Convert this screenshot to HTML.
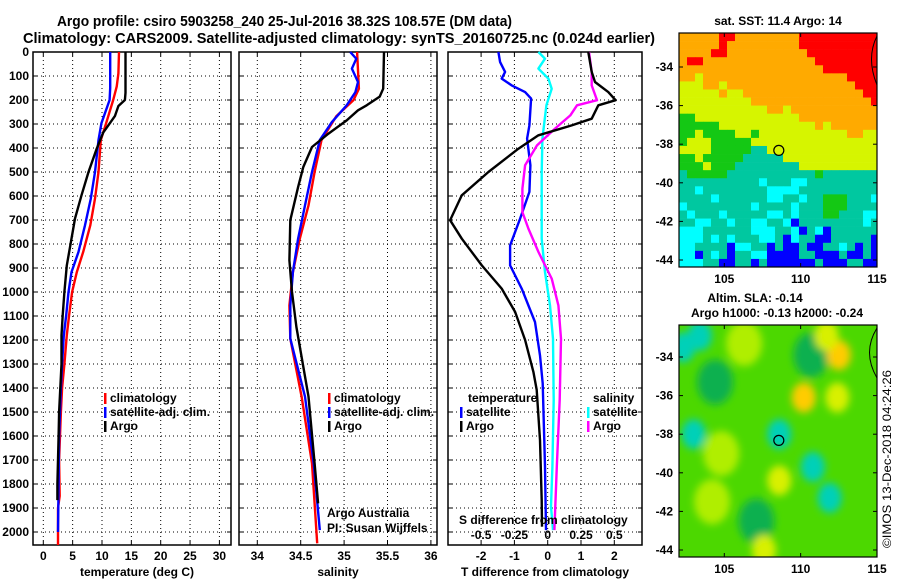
<!DOCTYPE html>
<html><head><meta charset="utf-8"><style>
html,body{margin:0;padding:0;background:#fff;}
svg{display:block;font-family:"Liberation Sans",Arial,sans-serif;}
.b{font-weight:bold;font-size:12px;}
</style></head><body>
<svg id="fig" width="900" height="580" viewBox="0 0 900 580" xmlns="http://www.w3.org/2000/svg">
<defs>
<filter id="blur" x="-10%" y="-10%" width="120%" height="120%"><feGaussianBlur stdDeviation="4"/></filter>
<clipPath id="clipSla"><rect x="679" y="325" width="198" height="232"/></clipPath>
<clipPath id="clipSst"><rect x="679" y="33" width="198" height="234"/></clipPath>
</defs>
<text x="57" y="26" font-size="15" font-weight="bold" textLength="455" lengthAdjust="spacingAndGlyphs">Argo profile: csiro 5903258_240 25-Jul-2016 38.32S 108.57E (DM data)</text>
<text x="23" y="43" font-size="15" font-weight="bold" textLength="632" lengthAdjust="spacingAndGlyphs">Climatology: CARS2009. Satellite-adjusted climatology: synTS_20160725.nc (0.024d earlier)</text>
<g id="panels"></g>
<g id="maps"></g>
<text transform="translate(891,548) rotate(-90)" font-size="12" textLength="178" lengthAdjust="spacingAndGlyphs">©IMOS 13-Dec-2018 04:24:26</text>
</svg>
<script>
// ---- profile data ----
const tArgoD = [0,170,200,225,267,336,403,500,597,694,792,889,1000,1097,1180,1300,1500,1600,1800,1867];
const tArgoV = [14.0,14.0,13.9,12.8,12.2,10.2,9.1,7.7,6.5,5.4,4.7,4.0,3.6,3.3,3.1,3.1,2.7,2.6,2.4,2.4];
const tClimD = [0,89,144,200,297,367,500,611,722,833,917,1000,1097,1180,1300,1400,1500,1700,1850,1900,2054];
const tClimV = [12.9,12.8,12.5,11.9,10.7,9.8,9.4,8.8,8.0,6.8,5.7,4.9,4.4,4.0,3.6,3.2,3.0,2.7,2.8,2.5,2.5];
const tSatD = [0,150,200,297,367,500,611,722,833,917,1000,1097,1180,1300,1400,1600,1800,2000];
const tSatV = [11.4,11.4,11.3,9.9,9.4,8.8,8.1,7.1,6.0,4.8,4.3,3.9,3.5,3.2,3.0,2.7,2.6,2.5];

const sArgoD = [0,153,186,222,243,285,340,396,479,563,701,868,1000,1146,1436,1714,1881];
const sArgoV = [35.46,35.45,35.41,35.26,35.16,35.03,34.82,34.63,34.53,34.47,34.38,34.37,34.40,34.45,34.59,34.66,34.70];
const sClimD = [0,153,200,268,367,500,639,778,917,1056,1194,1436,1714,2047];
const sClimV = [35.15,35.17,35.11,34.91,34.74,34.66,34.59,34.49,34.41,34.37,34.38,34.51,34.63,34.69];
const sSatD = [0,28,69,125,167,222,292,367,500,639,778,917,1056,1194,1436,1714,1992];
const sSatV = [35.07,35.14,35.09,35.16,35.13,35.03,34.86,34.72,34.63,34.55,34.47,34.41,34.38,34.38,34.55,34.65,34.72];

const dtArgoD = [0,83,125,167,201,222,278,306,347,403,500,597,701,778,889,986,1083,1200,1333,1408,1617,1867,1978];
const dtArgoV = [1.22,1.32,1.42,1.82,2.04,1.52,1.32,0.72,-0.28,-0.88,-1.78,-2.58,-2.93,-2.58,-1.98,-1.38,-0.98,-0.68,-0.43,-0.33,-0.23,-0.18,-0.17];
const dtSatD = [0,42,83,111,139,167,194,306,361,472,583,694,806,889,986,1125,1264,1381,1728,1992];
const dtSatV = [-1.48,-1.43,-1.28,-1.38,-1.08,-0.68,-0.5,-0.55,-0.62,-0.52,-0.55,-0.83,-1.13,-1.13,-0.78,-0.38,-0.23,-0.15,-0.08,-0.05];
const dsSatD = [0,28,69,111,153,222,361,500,639,778,917,1056,1194,1450,1728,1894,1992];
const dsSatV = [-0.07,-0.02,-0.07,0.005,0.03,-0.01,-0.04,-0.045,-0.045,-0.045,-0.02,0.017,0.04,0.045,0.035,0.025,0.04];
const dsArgoD = [0,83,139,201,222,264,319,389,472,569,667,736,833,944,1056,1194,1450,1728,1992];
const dsArgoV = [0.31,0.33,0.33,0.37,0.22,0.17,0.055,-0.08,-0.17,-0.19,-0.19,-0.145,-0.07,0.03,0.08,0.1,0.09,0.068,0.05];

const depthTicks = [0,100,200,300,400,500,600,700,800,900,1000,1100,1200,1300,1400,1500,1600,1700,1800,1900,2000];
const tTicks = [0,5,10,15,20,25,30];
const sTicks = [34,34.5,35,35.5,36];
const sTickLabels = ['34','34.5','35','35.5','36'];
const dtTicks = [-2,-1,0,1,2];
const dsTicks = [-0.5,-0.25,0,0.25,0.5];
const dsTickLabels = ['-0.5','-0.25','0','0.25','0.5'];

// ---- map data ----
const sstRows = [
"OOOOORROOOOOOOORRRRRRRRRR","OOOOOROOOOOOOOORRRRRRRRRR","OOOORROOOOOOOOOORRRRRRRRR","ORROOOOOOOOOOOOOORRRRRRRR",
"OOOOOOOOOOOOOOOOOORRRRRRR","OOYOOOOOOOOOOOOOOOOOORRRR","YYYOOYOOOOOOOOOOOOOOOORRR","YYYYYOYYOOOOOOOOOOOOOOORR",
"YYYYYYYYYOOOOOOOOOOOOOOOR","YYYYYYYYYYYOOYOOOOOOOOOOO","GGYYYYYYYYYYYYYOOOOOOOOOO","GGGGGYYYYYYYYYYYYOYOOOOOO",
"GGYGGGGYYGYYYYYYYYYYYOOYY","GYYYGGGGGYYYYYYYYYYYYYYYY","YYYYGGGGGTTYYYYYYYYYYYYYY","GGYGGGGGTTTTTYYYYYYYYYYYY",
"GGGYGGGTTTTTTTTYYYYYYYYYY","TGGGGGTTTTTTTTTTTGTTTTTTT","TTTTTTTTTTCTTTCCTTTTTTTTT","TTCTTTTTTTTCCCCTTTTTTTTTT",
"TTTTCTTTTTTCCTTCTTGGGTTTC","CTTTTTTTTCTTTTCTTTGGGTTTT","TCTTTCTTTTTCCTCTTTGGTTTCC","TTCCTTCTTCCTTCBTTTTTTTTCT",
"CCCTTTTTTCCCTTCBTCBTTTTTT","CCCTCTCTTTCCTBCTTBBTTTTTB","CCTTTTBCCTTBTBBTBBTTCTBTB","CCBTCTBTTCCBBBBTTBBBTBBTB",
"CCCTTBBTTBTBBBBBBTBBBTTBB"];
const slaBlobLon = [103.4,102.3,104.4,110.7,110.2,112.4,112.5,111.7,103.0,108.6,110.8,111.9,108.6,106.3,104.8,104.2,107.1,107.6];
const slaBlobLat = [-32.9,-33.5,-35.3,-33.9,-36.1,-36.1,-33.9,-32.9,-38.0,-38.0,-39.7,-41.3,-40.4,-33.3,-39.0,-41.5,-42.5,-44.0];
const slaBlobVal = ['c','c','d','d','o','y','o','y','c','c','c','c','y','l','l','l','d','y'];
const argoLon = 108.57, argoLat = -38.32;
const latTicks = [-34,-36,-38,-40,-42,-44];
const lonTicks = [105,110,115];

const NS = 'http://www.w3.org/2000/svg';
function el(tag, attrs, parent, text){
  const e = document.createElementNS(NS, tag);
  for (const k in attrs) e.setAttribute(k, attrs[k]);
  if (text !== undefined) e.textContent = text;
  parent.appendChild(e);
  return e;
}
const panels = document.getElementById('panels');
const maps = document.getElementById('maps');
const yD = d => 52 + d * 0.24;
const PT = 52, PB = 545;

function frame(x0, x1, name, gx, ticksX){
  const g = el('g', {}, panels);
  
  
  depthTicks.forEach(d => {
    const gl = el('line', {x1:x0, x2:x1, y1:yD(d), y2:yD(d), stroke:'#000', 'stroke-width':1, 'stroke-dasharray':'1 3'}, g);
    
    
    el('line', {x1:x0, x2:x0+4, y1:yD(d), y2:yD(d), stroke:'#000'}, g);
    el('line', {x1:x1-4, x2:x1, y1:yD(d), y2:yD(d), stroke:'#000'}, g);
  });
  ticksX.forEach(v => {
    const x = gx(v);
    const gl = el('line', {x1:x, x2:x, y1:PT, y2:PB, stroke:'#000', 'stroke-width':1, 'stroke-dasharray':'1 3'}, g);
    
    
    el('line', {x1:x, x2:x, y1:PB-4, y2:PB, stroke:'#000'}, g);
    el('line', {x1:x, x2:x, y1:PT, y2:PT+4, stroke:'#000'}, g);
  });
  const r = el('rect', {x:x0, y:PT, width:x1-x0, height:PB-PT, fill:'none', stroke:'#000', 'stroke-width':1.5}, g);
  
  
  return g;
}
function series(g, depths, vals, sx, color, name){
  let d = '';
  depths.forEach((dep, i) => { d += (i ? 'L' : 'M') + sx(vals[i]).toFixed(1) + ' ' + yD(dep).toFixed(1); });
  const p = el('path', {d:d, fill:'none', stroke:color, 'stroke-width':2.4, 'stroke-linejoin':'round'}, g);
  
  
}
function label(g, x, y, txt, name, anchor, cls){
  const t = el('text', {x:x, y:y, 'text-anchor':anchor || 'middle', class:cls || 'b'}, g, txt);
  
  
  return t;
}
function legend(g, x, y, color, txt, name){
  const r = el('rect', {x:x, y:y-9, width:2.5, height:11, fill:color}, g);
  
  
  label(g, x+6, y, txt, name, 'start');
}

depthTicks.forEach(d => {
  const t = el('text', {x:29, y:yD(d)+4, 'text-anchor':'end', class:'b'}, panels, String(d));
  
  
});

// Panel 1 temperature
const sxT = v => 43.3 + v * 5.87;
const g1 = frame(33, 231, 'temperature-panel', sxT, tTicks);
series(g1, tClimD, tClimV, sxT, '#ff0000', 'temperature-climatology-line');
series(g1, tSatD, tSatV, sxT, '#0000ff', 'temperature-satellite-line');
series(g1, tArgoD, tArgoV, sxT, '#000000', 'temperature-argo-line');
tTicks.forEach(v => label(g1, sxT(v), 560, String(v), 'temperature-tick-label'));
label(g1, 137, 576, 'temperature (deg C)', 'temperature-axis-title');
legend(g1, 104, 402, '#ff0000', 'climatology', 'legend-climatology');
legend(g1, 104, 416, '#0000ff', 'satellite-adj. clim.', 'legend-satellite');
legend(g1, 104, 430, '#000000', 'Argo', 'legend-argo');

// Panel 2 salinity
const sxS = v => 257.3 + (v - 34) * 86.8;
const g2 = frame(239, 437, 'salinity-panel', sxS, sTicks);
series(g2, sClimD, sClimV, sxS, '#ff0000', 'salinity-climatology-line');
series(g2, sSatD, sSatV, sxS, '#0000ff', 'salinity-satellite-line');
series(g2, sArgoD, sArgoV, sxS, '#000000', 'salinity-argo-line');
sTicks.forEach((v, i) => label(g2, sxS(v), 560, sTickLabels[i], 'salinity-tick-label'));
label(g2, 338, 576, 'salinity', 'salinity-axis-title');
legend(g2, 328, 402, '#ff0000', 'climatology', 'legend-climatology');
legend(g2, 328, 416, '#0000ff', 'satellite-adj. clim.', 'legend-satellite');
legend(g2, 328, 430, '#000000', 'Argo', 'legend-argo');
label(g2, 327, 517, 'Argo Australia', 'credit-argo-australia', 'start', '').setAttribute('font-size', '12');
label(g2, 327, 532, 'PI: Susan Wijffels', 'credit-pi', 'start', '').setAttribute('font-size', '12');

// Panel 3 differences
const sxDT = v => 547.7 + v * 33.3;
const sxDS = v => 547.7 + v * 133.2;
const g3 = frame(448, 642, 'difference-panel', sxDT, dtTicks);
series(g3, dtSatD, dtSatV, sxDT, '#0000ff', 'dt-satellite-line');
series(g3, dsSatD, dsSatV, sxDS, '#00ffff', 'ds-satellite-line');
series(g3, dsArgoD, dsArgoV, sxDS, '#ff00ff', 'ds-argo-line');
series(g3, dtArgoD, dtArgoV, sxDT, '#000000', 'dt-argo-line');
dtTicks.forEach(v => label(g3, sxDT(v), 560, String(v), 'dt-tick-label'));
label(g3, 545, 576, 'T difference from climatology', 'dt-axis-title');
label(g3, 459, 524, 'S difference from climatology', 'ds-axis-title', 'start');
dsTicks.forEach((v, i) => label(g3, sxDS(v), 539, dsTickLabels[i], 'ds-tick-label'));
label(g3, 468, 402, 'temperature', 'legend-temperature-header', 'start');
legend(g3, 460, 416, '#0000ff', 'satellite', 'legend-t-satellite');
legend(g3, 460, 430, '#000000', 'Argo', 'legend-t-argo');
label(g3, 593, 402, 'salinity', 'legend-salinity-header', 'start');
legend(g3, 587, 416, '#00ffff', 'satellite', 'legend-s-satellite');
legend(g3, 587, 430, '#ff00ff', 'Argo', 'legend-s-argo');

// ---- maps ----
const mLonX = lon => 724.3 + (lon - 105) * 15.27;
function mapAxes(g, top, bottom, latY){
  latTicks.forEach(lat => {
    const y = latY(lat);
    label(g, 673, y+4, String(lat), 'map-lat-label', 'end');
    el('line', {x1:679, x2:683, y1:y, y2:y, stroke:'#000'}, g);
    el('line', {x1:873, x2:877, y1:y, y2:y, stroke:'#000'}, g);
  });
  lonTicks.forEach(lon => {
    const x = mLonX(lon);
    label(g, x, bottom+16, String(lon), 'map-lon-label');
    el('line', {x1:x, x2:x, y1:bottom-4, y2:bottom, stroke:'#000'}, g);
    el('line', {x1:x, x2:x, y1:top, y2:top+4, stroke:'#000'}, g);
  });
  const r = el('rect', {x:679, y:top, width:198, height:bottom-top, fill:'none', stroke:'#000', 'stroke-width':1.2}, g);
  
  
}
const sstColors = {O:'#ffaa00', R:'#ff0000', Y:'#d6f500', G:'#14c814', T:'#00c8a0', C:'#00ffff', B:'#0000ff'};
const gs = el('g', {'clip-path':'url(#clipSst)'}, maps);


const ch = 234 / sstRows.length;
sstRows.forEach((row, r) => {
  for (let c = 0; c < row.length; c++) {
    const cell = el('rect', {x:679 + c*8, y:(33 + r*ch).toFixed(2), width:8.3, height:(ch+0.3).toFixed(2), fill:sstColors[row[c]]}, gs);
    
    
  }
});
el('path', {d:'M877 36 Q866 58 877 85', fill:'none', stroke:'#000', 'stroke-width':1}, gs);
const sstLatY = lat => 67 + (-34 - lat) * 19.3;
const cs = el('circle', {cx:mLonX(argoLon), cy:sstLatY(argoLat), r:5, fill:'#d6f500', stroke:'#000', 'stroke-width':1.2}, maps);


mapAxes(maps, 33, 267, sstLatY);
label(maps, 778, 25, 'sat. SST: 11.4 Argo: 14', 'sst-map-title');

const slaColors = {c:'#00d0b8', d:'#10b050', o:'#ffcc00', y:'#d8f000', l:'#b0ee00'};
const slaLatY = lat => 357 + (-34 - lat) * 19.3;
const gl = el('g', {'clip-path':'url(#clipSla)'}, maps);


el('rect', {x:679, y:325, width:198, height:232, fill:'#4cd800'}, gl);
const gb = el('g', {filter:'url(#blur)'}, gl);
slaBlobLon.forEach((lon, i) => {
  const k = slaBlobVal[i];
  const rr = (k === 'd' || k === 'l') ? 18 : 12;
  const b = el('ellipse', {cx:mLonX(lon), cy:slaLatY(slaBlobLat[i]), rx:rr, ry:rr*1.25, fill:slaColors[k]}, gb);
  
  
});
el('path', {d:'M877 328 Q862 352 877 378', fill:'none', stroke:'#000', 'stroke-width':1}, gl);
const cl = el('circle', {cx:mLonX(argoLon), cy:slaLatY(argoLat), r:5, fill:'none', stroke:'#000', 'stroke-width':1.2}, maps);


mapAxes(maps, 325, 557, slaLatY);
label(maps, 755, 302, 'Altim. SLA: -0.14', 'sla-map-title');
label(maps, 777, 317, 'Argo h1000: -0.13 h2000: -0.24', 'sla-map-subtitle');
</script>
</body></html>
